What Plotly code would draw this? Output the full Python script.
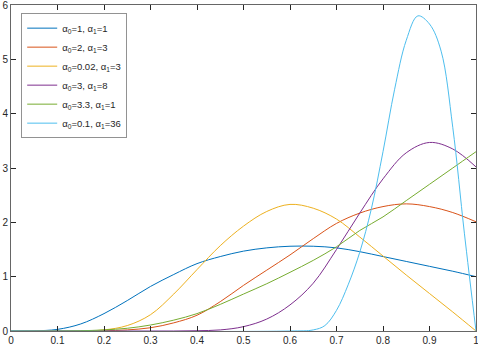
import plotly.graph_objects as go

# values
x_grid = [0.0, 0.05, 0.1, 0.15, 0.2, 0.25, 0.3, 0.35, 0.4, 0.45, 0.5,
          0.55, 0.6, 0.65, 0.7, 0.75, 0.8, 0.85, 0.9, 0.95, 1.0]

blue = [0, 0.003, 0.03, 0.13, 0.32, 0.56, 0.82, 1.04, 1.24, 1.37, 1.47,
        1.53, 1.56, 1.56, 1.53, 1.46, 1.37, 1.28, 1.19, 1.1, 1.0]
orange = [0, 0, 0, 0, 0.005, 0.02, 0.06, 0.15, 0.29, 0.54, 0.84,
          1.12, 1.4, 1.7, 1.98, 2.17, 2.29, 2.34, 2.29, 2.18, 2.01]
yellow = [0, 0, 0, 0, 0.02, 0.1, 0.3, 0.68, 1.13, 1.57, 1.93,
          2.2, 2.33, 2.26, 2.06, 1.73, 1.38, 1.03, 0.69, 0.35, 0]
purple = [0, 0, 0, 0, 0, 0, 0, 0, 0.005, 0.02, 0.08,
          0.22, 0.48, 0.88, 1.5, 2.17, 2.8, 3.28, 3.47, 3.35, 3.02]
green = [0, 0, 0, 0.005, 0.02, 0.05, 0.11, 0.2, 0.32, 0.49, 0.68,
         0.87, 1.08, 1.3, 1.55, 1.85, 2.1, 2.4, 2.7, 3.0, 3.3]

x_cyan = [0.0, 0.6, 0.65, 0.675, 0.7, 0.725, 0.75, 0.775, 0.8, 0.825,
          0.85, 0.875, 0.9, 0.925, 0.95, 0.975, 1.0]
cyan = [0, 0, 0.02, 0.1, 0.38, 0.85, 1.45, 2.25, 3.3, 4.45,
        5.35, 5.8, 5.65, 5.15, 3.75, 1.8, 0]

x_ticks = [0, 0.1, 0.2, 0.3, 0.4, 0.5, 0.6, 0.7, 0.8, 0.9, 1]
x_tick_text = ["0", "0.1", "0.2", "0.3", "0.4", "0.5", "0.6", "0.7", "0.8", "0.9", "1"]
y_ticks = [0, 1, 2, 3, 4, 5, 6]
y_tick_text = ["0", "1", "2", "3", "4", "5", "6"]

labels = ["α<sub>0</sub>=1, α<sub>1</sub>=1",
          "α<sub>0</sub>=2, α<sub>1</sub>=3",
          "α<sub>0</sub>=0.02, α<sub>1</sub>=3",
          "α<sub>0</sub>=3, α<sub>1</sub>=8",
          "α<sub>0</sub>=3.3, α<sub>1</sub>=1",
          "α<sub>0</sub>=0.1, α<sub>1</sub>=36"]
colors = ["#0072BD", "#D95319", "#EDB120", "#7E2F8E", "#77AC30", "#4DBEEE"]

series = [(x_grid, blue), (x_grid, orange), (x_grid, yellow),
          (x_grid, purple), (x_grid, green), (x_cyan, cyan)]

fig = go.Figure()
for (xs, ys), name, c in zip(series, labels, colors):
    fig.add_trace(go.Scatter(x=xs, y=ys, name=name, mode="lines",
                             line=dict(color=c, width=1, shape="spline", smoothing=1.0)))

axis = dict(showgrid=False, zeroline=False, showline=True, mirror="ticks",
            linecolor="#666666", linewidth=1, ticks="inside", ticklen=5,
            tickcolor="#262626", tickfont=dict(size=10, color="#262626"),
            automargin=False, ticklabeloverflow="allow")

fig.update_layout(
    width=478, height=348,
    margin=dict(l=11, r=2, t=5, b=17, autoexpand=False),
    template="simple_white",
    font=dict(family="Liberation Sans, Arial, sans-serif", size=10, color="#262626"),
    xaxis=dict(range=[0, 1], tickvals=x_ticks, ticktext=x_tick_text, **axis),
    yaxis=dict(range=[0, 6], tickvals=y_ticks, ticktext=y_tick_text, **axis),
    legend=dict(x=0.023, y=0.975, xanchor="left", yanchor="top",
                bordercolor="#262626", borderwidth=0.5, bgcolor="white",
                font=dict(size=9.5), tracegroupgap=0),
    showlegend=True,
)

# the page's default body margin would push the figure 8px off the window
fig.write_html("out.html", config={"displayModeBar": False},
               post_script="document.body.style.margin='0';")
